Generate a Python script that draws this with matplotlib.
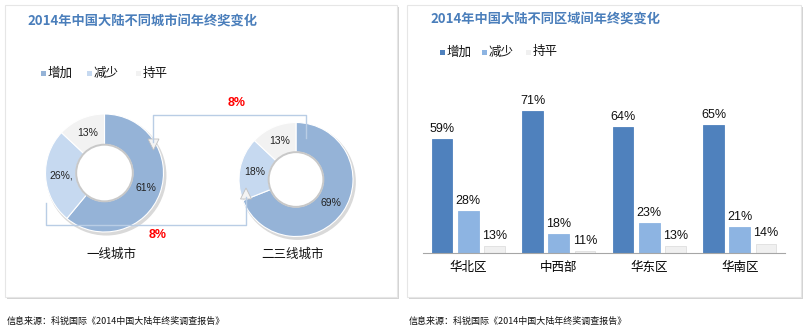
import numpy as np
import matplotlib
matplotlib.use('Agg')
import matplotlib.pyplot as plt
from matplotlib.patches import Rectangle, Circle, Polygon

# data
series = ['增加', '减少', '持平']
city_types = ['一线城市', '二三线城市']
tier1 = [61, 26, 13]
tier23 = [69, 18, 13]
tier1_labels = ['61%', '26%,', '13%']
tier23_labels = ['69%', '18%', '13%']
shift_label = '8%'

regions = ['华北区', '中西部', '华东区', '华南区']
up = [59, 71, 64, 65]
down = [28, 18, 23, 21]
flat = [13, 11, 13, 14]

title_left = '2014年中国大陆不同城市间年终奖变化'
title_right = '2014年中国大陆不同区域间年终奖变化'
source = '信息来源：科锐国际《2014中国大陆年终奖调查报告》'

W, H = 807, 335
CJK = ['Noto Sans CJK SC', 'DejaVu Sans']
NUM = 'Liberation Sans'

pie_colors = ['#95b3d7', '#c6d9f0', '#f2f2f2']
bar_colors = ['#4f81bd', '#8db4e2', '#f0f0f0']
title_color = '#4a7ebb'
link_color = '#b9cde5'


def px_axes(fig, x0, y0, x1, y1, **kw):
    # axes placed by pixel box (top-left origin)
    return fig.add_axes([x0 / W, 1 - y1 / H, (x1 - x0) / W, (y1 - y0) / H], **kw)


fig = plt.figure(figsize=(W / 100, H / 100), dpi=100)
fig.patch.set_facecolor('white')

# background panels
bg = px_axes(fig, 0, 0, W, H, zorder=0)
bg.set_xlim(0, W)
bg.set_ylim(H, 0)
bg.axis('off')
for (x0, y0, x1, y1) in [(5, 5, 397, 297), (407, 5, 801, 297)]:
    bg.add_patch(Rectangle((x0 + 2, y0 + 2), x1 - x0, y1 - y0, color='#d4d4d4', lw=0))
    bg.add_patch(Rectangle((x0, y0), x1 - x0, y1 - y0, facecolor='white',
                           edgecolor='#e6e6e6', lw=0.8))


# donuts
def donut(cx, cy, r, vals, labels):
    pad = 1.12
    ax = px_axes(fig, cx - r * pad, cy - r * pad, cx + r * pad, cy + r * pad, zorder=2)
    ax.add_patch(Circle((0.03, -0.04), 1.02, color='#d9d9d9', lw=0, zorder=0))
    wedges, texts = ax.pie(vals, labels=labels, colors=pie_colors, startangle=90,
                           counterclock=False, radius=1, labeldistance=0.74,
                           wedgeprops=dict(width=0.52, edgecolor='white', linewidth=0.8),
                           textprops=dict(fontsize=7.5, family=NUM, color='#222222',
                                          ha='center', va='center'))
    ax.add_patch(Circle((0, 0), 0.48, facecolor='white', edgecolor='#c8c8c8', lw=1.4, zorder=3))
    ax.set_xlim(-pad, pad)
    ax.set_ylim(-pad, pad)
    ax.set_aspect('equal')
    return ax


donut(104.5, 173, 59, tier1, tier1_labels)
donut(296, 179.5, 57, tier23, tier23_labels)

# bars
bx = px_axes(fig, 423, 71, 785, 253, zorder=2)
x = np.arange(len(regions))
bw = 0.23
off = 0.29
for i, (vals, c) in enumerate(zip([up, down, flat], bar_colors)):
    ec = '#dedede' if i == 2 else c
    rects = bx.bar(x + (i - 1) * off, vals, bw, color=c, edgecolor=ec, lw=0.6)
    for rect, v in zip(rects, vals):
        bx.annotate(f'{v}%', (rect.get_x() + rect.get_width() / 2, v),
                    xytext=(0, 3), textcoords='offset points', ha='center', va='bottom',
                    fontsize=9, family=NUM, color='#111111')
bx.set_xlim(-0.5, len(regions) - 0.5)
bx.set_ylim(10, 88)
bx.set_xticks(x)
bx.set_xticklabels(regions, family=CJK, fontsize=9)
bx.tick_params(length=0, pad=6)
bx.set_yticks([])
for s in ['top', 'left', 'right']:
    bx.spines[s].set_visible(False)
bx.spines['bottom'].set_color('#a6a6a6')
bx.patch.set_alpha(0)

# overlay: connectors, legends, texts
ov = px_axes(fig, 0, 0, W, H, zorder=5)
ov.set_xlim(0, W)
ov.set_ylim(H, 0)
ov.axis('off')
ov.patch.set_alpha(0)

ov.plot([153, 153, 306, 306], [142, 115, 115, 138], color=link_color, lw=1)
ov.plot([46, 46, 246, 246], [203, 225, 225, 197], color=link_color, lw=1)
ov.add_patch(Polygon([[148, 139], [159, 139], [153.5, 150]], closed=True,
                     facecolor='#f4f4f4', edgecolor='#c0c0c0', lw=0.6))
ov.add_patch(Polygon([[240.5, 199], [251.5, 199], [246, 188]], closed=True,
                     facecolor='#f4f4f4', edgecolor='#c0c0c0', lw=0.6))
ov.text(237, 103, shift_label, color='red', fontsize=9, fontweight='bold',
        family=NUM, ha='center', va='center')
ov.text(158, 235, shift_label, color='red', fontsize=9, fontweight='bold',
        family=NUM, ha='center', va='center')

for name, cx in zip(city_types, [111, 293]):
    ov.text(cx, 254, name, family=CJK, fontsize=9, ha='center', va='center', color='#111111')

ov.text(27, 22, title_left, family=CJK, fontsize=9.5, fontweight='bold',
        color=title_color, va='center')
ov.text(430, 20, title_right, family=CJK, fontsize=9.5, fontweight='bold',
        color=title_color, va='center')

for name, c, sx in zip(series, pie_colors, [43, 89, 138]):
    ov.add_patch(Rectangle((sx - 2.5, 70.5), 5, 5, color=c, lw=0))
    ov.text(sx + 5, 73, name, family=CJK, fontsize=9, va='center', color='#111111')
for name, c, sx in zip(series, bar_colors, [442, 484, 528]):
    ov.add_patch(Rectangle((sx - 2.5, 49.5), 5, 5, color=c, lw=0))
    ov.text(sx + 5, 52, name, family=CJK, fontsize=9, va='center', color='#111111')

ov.text(7, 321, source, family=CJK, fontsize=6.5, va='center', color='#111111')
ov.text(409, 321, source, family=CJK, fontsize=6.5, va='center', color='#111111')

fig.savefig('out.png', dpi=100)
